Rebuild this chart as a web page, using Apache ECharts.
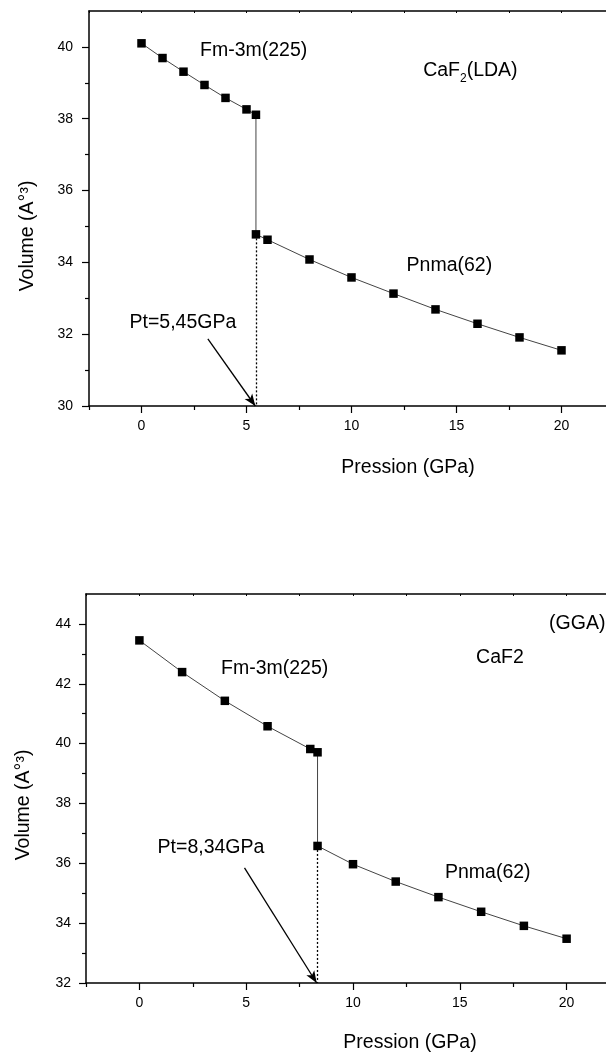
<!DOCTYPE html>
<html><head><meta charset="utf-8">
<script src="https://cdn.jsdelivr.net/npm/echarts@6/dist/echarts.min.js"></script>
<style>html,body{margin:0;padding:0;background:#fff}#c{width:606px;height:1053px}</style>
</head><body><div id="c"></div>
<script>
// ---- data ----
const ldaPressure = [0, 1, 2, 3, 4, 5, 5.45, 5.45, 6, 8, 10, 12, 14, 16, 18, 20];
const ldaVolume   = [40.10, 39.69, 39.31, 38.94, 38.58, 38.26, 38.11, 34.78, 34.63, 34.08, 33.58, 33.13, 32.69, 32.29, 31.91, 31.55];
const ggaPressure = [0, 2, 4, 6, 8, 8.34, 8.34, 10, 12, 14, 16, 18, 20];
const ggaVolume   = [43.45, 42.39, 41.43, 40.58, 39.82, 39.71, 36.58, 35.97, 35.39, 34.87, 34.38, 33.91, 33.48];
const ldaTransition = [5.45, 34.78];
const ggaTransition = [8.34, 36.58];

const xMajorTicks = [0, 5, 10, 15, 20];
const xMinorTicks = [-2.5, 2.5, 7.5, 12.5, 17.5, 22.5];
const xTopTicks   = [-2.5, 0, 2.5, 5, 7.5, 10, 12.5, 15, 17.5, 20, 22.5];
const ldaYMajor = [30, 32, 34, 36, 38, 40];
const ldaYMinor = [31, 33, 35, 37, 39];
const ggaYMajor = [32, 34, 36, 38, 40, 42, 44];
const ggaYMinor = [33, 35, 37, 39, 41, 43];

// annotation anchors in data units [pressure, volume]
const ldaNotes = [
  [5.34, 39.89, 'Fm-3m(225)'],
  [15.66, 39.33, '{n|CaF}{s|2}{n|(LDA)}'],
  [14.66, 33.90, 'Pnma(62)'],
  [1.97, 32.33, 'Pt=5,45GPa']
];
const ldaArrow = [[3.16, 31.87], [5.42, 30]];
const ggaNotes = [
  [6.33, 42.50, 'Fm-3m(225)'],
  [16.88, 42.86, 'CaF2'],
  [20.5, 44.0, '(GGA)'],
  [16.31, 35.70, 'Pnma(62)'],
  [3.35, 36.53, 'Pt=8,34GPa']
];
const ggaArrow = [[4.92, 35.85], [8.30, 32]];

const FONT = '"Liberation Sans", Arial, sans-serif';
const TXT = 19.5;
const chart = echarts.init(document.getElementById('c'), null, {renderer: 'canvas'});

function xAxes(gridIndex) {
  const base = {gridIndex, type: 'value', min: -2.5, max: 22.5, splitLine: {show: false}};
  return [
    Object.assign({}, base, {position: 'bottom',
      axisLine: {show: true, onZero: false, lineStyle: {color: '#000', width: 1.5}},
      axisTick: {show: true, customValues: xMajorTicks, length: 7, lineStyle: {color: '#000', width: 1.2}},
      axisLabel: {show: true, customValues: xMajorTicks, margin: 13, color: '#000', fontSize: 14, fontFamily: FONT}}),
    Object.assign({}, base, {position: 'bottom',
      axisLine: {show: false, onZero: false},
      axisTick: {show: true, customValues: xMinorTicks, length: 4, lineStyle: {color: '#000', width: 1.2}},
      axisLabel: {show: false}}),
    Object.assign({}, base, {position: 'top',
      axisLine: {show: true, onZero: false, lineStyle: {color: '#000', width: 1.5}},
      axisTick: {show: true, inside: true, customValues: xTopTicks, length: 2, lineStyle: {color: '#000', width: 1}},
      axisLabel: {show: false}})
  ];
}
function yAxes(gridIndex, min, max, major, minor, margin) {
  const base = {gridIndex, type: 'value', min, max, position: 'left', splitLine: {show: false}};
  return [
    Object.assign({}, base, {
      axisLine: {show: true, onZero: false, lineStyle: {color: '#000', width: 1.5}},
      axisTick: {show: true, customValues: major, length: 7, lineStyle: {color: '#000', width: 1.2}},
      axisLabel: {show: true, customValues: major, margin, color: '#000', fontSize: 14, fontFamily: FONT}}),
    Object.assign({}, base, {
      axisLine: {show: false, onZero: false},
      axisTick: {show: true, customValues: minor, length: 4, lineStyle: {color: '#000', width: 1.2}},
      axisLabel: {show: false}})
  ];
}

function zip(a, b) { return a.map((v, i) => [v, b[i]]); }

function curve(xi, yi, px, vy, trans, drop, arrow) {
  return {
    type: 'line', xAxisIndex: xi, yAxisIndex: yi,
    data: zip(px, vy),
    symbol: 'rect', symbolSize: 8.5,
    itemStyle: {color: '#000'},
    lineStyle: {color: '#444', width: 1},
    z: 5,
    markLine: {
      silent: true, animation: false,
      label: {show: false},
      data: [
        [{coord: trans, symbol: 'none', lineStyle: {type: [2, 2], color: '#000', width: 1.3}},
         {coord: drop, symbol: 'none'}],
        [{coord: arrow[0], symbol: 'none', lineStyle: {type: 'solid', color: '#000', width: 1.3}},
         {coord: arrow[1], symbol: 'arrow', symbolSize: [7, 12]}]
      ]
    }
  };
}
function notes(xi, yi, list) {
  return {
    type: 'scatter', xAxisIndex: xi, yAxisIndex: yi, symbolSize: 0, silent: true, z: 10,
    itemStyle: {color: '#000', opacity: 1},
    data: list.map(n => ({value: [n[0], n[1]], label: {formatter: n[2]}})),
    label: {show: true, position: 'inside', color: '#000', opacity: 1, textBorderWidth: 0, fontSize: TXT, fontFamily: FONT,
      rich: {
        n: {fontSize: TXT, fontFamily: FONT, color: '#000', textBorderWidth: 0, lineHeight: 24},
        s: {fontSize: 12, fontFamily: FONT, color: '#000', textBorderWidth: 0, lineHeight: 24, padding: [15, 0, 0, 0]}
      }}
  };
}
function title(x, y, text, rot) {
  return {type: 'text', x, y, rotation: rot ? Math.PI / 2 : 0,
    style: {text, fontSize: TXT, fontFamily: FONT, fill: '#000', align: 'center', verticalAlign: 'middle', textAlign: 'center', textVerticalAlign: 'middle'}};
}

const option = {
  animation: false,
  backgroundColor: '#fff',
  grid: [
    {left: 89, top: 11, width: 525, height: 395, containLabel: false, outerBoundsMode: 'none'},
    {left: 86, top: 594, width: 534, height: 389, containLabel: false, outerBoundsMode: 'none'}
  ],
  xAxis: xAxes(0).concat(xAxes(1)),
  yAxis: yAxes(0, 30, 41, ldaYMajor, ldaYMinor, 16).concat(yAxes(1, 32, 45, ggaYMajor, ggaYMinor, 15)),
  series: [
    curve(0, 0, ldaPressure, ldaVolume, ldaTransition, [ldaTransition[0], 30], ldaArrow),
    notes(0, 0, ldaNotes),
    curve(3, 2, ggaPressure, ggaVolume, ggaTransition, [ggaTransition[0], 32], ggaArrow),
    notes(3, 2, ggaNotes)
  ],
  graphic: [
    title(408, 468, 'Pression (GPa)', false),
    title(28, 236, 'Volume (A°³)', true),
    title(410, 1043, 'Pression (GPa)', false),
    title(24, 805, 'Volume (A°³)', true)
  ]
};
chart.setOption(option);
</script></body></html>
